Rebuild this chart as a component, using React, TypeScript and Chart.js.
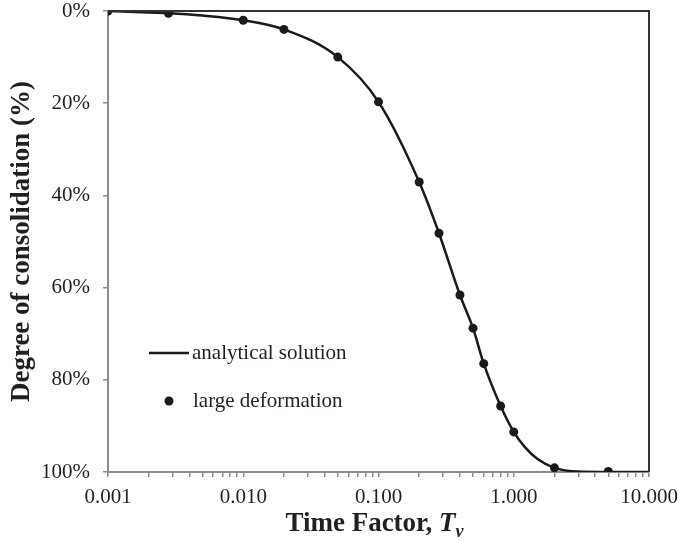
import { useEffect, useRef } from "react";
import { Chart, registerables } from "chart.js";

Chart.register(...registerables);

// Analytical solution: time factor vs. degree of consolidation (%)
const analyticalT = [
  0.001, 0.002, 0.0028, 0.005, 0.01, 0.02, 0.05, 0.1, 0.2,
  0.28, 0.4, 0.5, 0.6, 0.8, 1.0, 1.2, 1.5, 2.0, 3.0, 5.0, 10.0,
];
const analyticalU = [
  0, 0.35, 0.5, 1.0, 2.0, 4.0, 10.0, 19.7, 37.1,
  48.2, 61.6, 68.8, 76.5, 85.7, 91.3, 94.5, 97.2, 99.1, 99.9, 100, 100,
];

// Large deformation results
const largeDefT = [0.001, 0.0028, 0.01, 0.02, 0.05, 0.1, 0.2, 0.28, 0.4, 0.5, 0.6, 0.8, 1.0, 2.0, 5.0];
const largeDefU = [0, 0.5, 2.0, 4.0, 10.0, 19.7, 37.1, 48.2, 61.6, 68.8, 76.5, 85.7, 91.3, 99.1, 99.9];

// Axis setup
const xDecades = [0.001, 0.01, 0.1, 1, 10];
const xMinorMultipliers = [1, 2, 3, 4, 5, 6, 7, 8, 9];
const yMin = 0;
const yMax = 100;
const yStep = 20;

const legendLabels = ["analytical solution", "large deformation"];
const xTitleParts = ["Time Factor, ", "T", "v"];
const yTitle = "Degree of consolidation (%)";

const SERIF = "'Liberation Serif', 'Times New Roman', Times, serif";
const INK = "#231f20";
const AXIS_GRAY = "#8c8c8c";

const isDecade = (v: number) => xDecades.some((d) => Math.abs(v / d - 1) < 1e-6);

const decorations = {
  id: "decorations",
  afterDraw(chart: Chart) {
    const { ctx, chartArea } = chart;
    const { left, top, right, bottom } = chartArea;
    ctx.save();

    // plot frame: top and right edges
    ctx.strokeStyle = "#333333";
    ctx.lineWidth = 2;
    ctx.beginPath();
    ctx.moveTo(left, top);
    ctx.lineTo(right, top);
    ctx.lineTo(right, bottom);
    ctx.stroke();

    // x-axis title with italic T and subscript v
    const boldFont = `bold 27px ${SERIF}`;
    const italicFont = `italic bold 27px ${SERIF}`;
    const subFont = `italic bold 18px ${SERIF}`;
    ctx.fillStyle = INK;
    ctx.textBaseline = "alphabetic";
    ctx.textAlign = "left";
    ctx.font = boldFont;
    const w1 = ctx.measureText(xTitleParts[0]).width;
    ctx.font = italicFont;
    const w2 = ctx.measureText(xTitleParts[1]).width;
    ctx.font = subFont;
    const w3 = ctx.measureText(xTitleParts[2]).width;
    const total = w1 + w2 + w3;
    let x = (left + right) / 2 - total / 2 - 4;
    const baseY = 531;
    ctx.font = boldFont;
    ctx.fillText(xTitleParts[0], x, baseY);
    x += w1;
    ctx.font = italicFont;
    ctx.fillText(xTitleParts[1], x, baseY);
    x += w2;
    ctx.font = subFont;
    ctx.fillText(xTitleParts[2], x, baseY + 6);

    // y-axis title
    ctx.save();
    ctx.translate(22, (top + bottom) / 2);
    ctx.rotate(-Math.PI / 2);
    ctx.font = boldFont;
    ctx.textAlign = "center";
    ctx.textBaseline = "middle";
    ctx.fillText(yTitle, 0, 0);
    ctx.restore();

    // legend inside the plot
    ctx.font = `21px ${SERIF}`;
    ctx.textAlign = "left";
    ctx.textBaseline = "middle";
    const lineY = top + 342;
    ctx.strokeStyle = "#1a1a1a";
    ctx.lineWidth = 2.5;
    ctx.beginPath();
    ctx.moveTo(left + 41, lineY);
    ctx.lineTo(left + 81, lineY);
    ctx.stroke();
    ctx.fillText(legendLabels[0], left + 84, lineY);

    const dotY = top + 390;
    ctx.fillStyle = "#1a1a1a";
    ctx.beginPath();
    ctx.arc(left + 61, dotY, 4.5, 0, Math.PI * 2);
    ctx.fill();
    ctx.fillStyle = INK;
    ctx.fillText(legendLabels[1], left + 85, dotY);

    ctx.restore();
  },
};

export default function App() {
  const canvasRef = useRef<HTMLCanvasElement | null>(null);

  useEffect(() => {
    const canvas = canvasRef.current;
    if (!canvas) return;

    const chart = new Chart(canvas, {
      type: "scatter",
      data: {
        datasets: [
          {
            label: legendLabels[1],
            data: largeDefT.map((t, i) => ({ x: t, y: largeDefU[i] })),
            showLine: false,
            pointRadius: 4.5,
            pointHoverRadius: 4.5,
            backgroundColor: "#1a1a1a",
            borderColor: "#1a1a1a",
            borderWidth: 0,
            order: 0,
          },
          {
            label: legendLabels[0],
            data: analyticalT.map((t, i) => ({ x: t, y: analyticalU[i] })),
            showLine: true,
            cubicInterpolationMode: "monotone",
            borderColor: "#1a1a1a",
            borderWidth: 2.5,
            pointRadius: 0,
            pointHoverRadius: 0,
            fill: false,
            order: 1,
          },
        ],
      },
      options: {
        responsive: false,
        animation: false,
        devicePixelRatio: 1,
        layout: { padding: { top: 11, right: 29, bottom: 0, left: 0 } },
        plugins: {
          legend: { display: false },
          tooltip: { enabled: false },
        },
        scales: {
          x: {
            type: "logarithmic",
            min: xDecades[0],
            max: xDecades[xDecades.length - 1],
            afterBuildTicks: (scale: any) => {
              const ticks: { value: number; major: boolean }[] = [];
              for (let i = 0; i < xDecades.length - 1; i++) {
                for (const m of xMinorMultipliers) {
                  const v = Number((xDecades[i] * m).toPrecision(6));
                  ticks.push({ value: v, major: m === 1 });
                }
              }
              ticks.push({ value: xDecades[xDecades.length - 1], major: true });
              scale.ticks = ticks;
            },
            afterFit: (scale: any) => {
              scale.height = 69;
              scale.paddingLeft = 0;
              scale.paddingRight = 0;
            },
            ticks: {
              autoSkip: false,
              maxRotation: 0,
              minRotation: 0,
              padding: 10,
              color: INK,
              font: { family: SERIF, size: 21, lineHeight: 1 },
              callback: (value: any) => {
                const v = Number(value);
                return isDecade(v) ? v.toFixed(3) : "";
              },
            },
            grid: {
              drawOnChartArea: false,
              drawTicks: true,
              tickLength: 5,
              color: AXIS_GRAY,
              lineWidth: 1.5,
            },
            border: { display: true, color: AXIS_GRAY, width: 2 },
          },
          y: {
            type: "linear",
            reverse: true,
            min: yMin,
            max: yMax,
            afterFit: (scale: any) => {
              scale.width = 108;
              scale.paddingTop = 0;
              scale.paddingBottom = 0;
            },
            ticks: {
              stepSize: yStep,
              padding: 13,
              color: INK,
              font: { family: SERIF, size: 21, lineHeight: 1 },
              callback: (value: any) => `${value}%`,
            },
            grid: {
              drawOnChartArea: false,
              drawTicks: true,
              tickLength: 5,
              color: AXIS_GRAY,
              lineWidth: 1.5,
            },
            border: { display: true, color: AXIS_GRAY, width: 2 },
          },
        },
      },
      plugins: [decorations],
    } as any);

    return () => chart.destroy();
  }, []);

  return (
    <div style={{ position: "absolute", left: 0, top: 0, width: 678, height: 541, background: "#fff" }}>
      <canvas ref={canvasRef} width={678} height={541} style={{ display: "block", width: 678, height: 541 }} />
    </div>
  );
}
